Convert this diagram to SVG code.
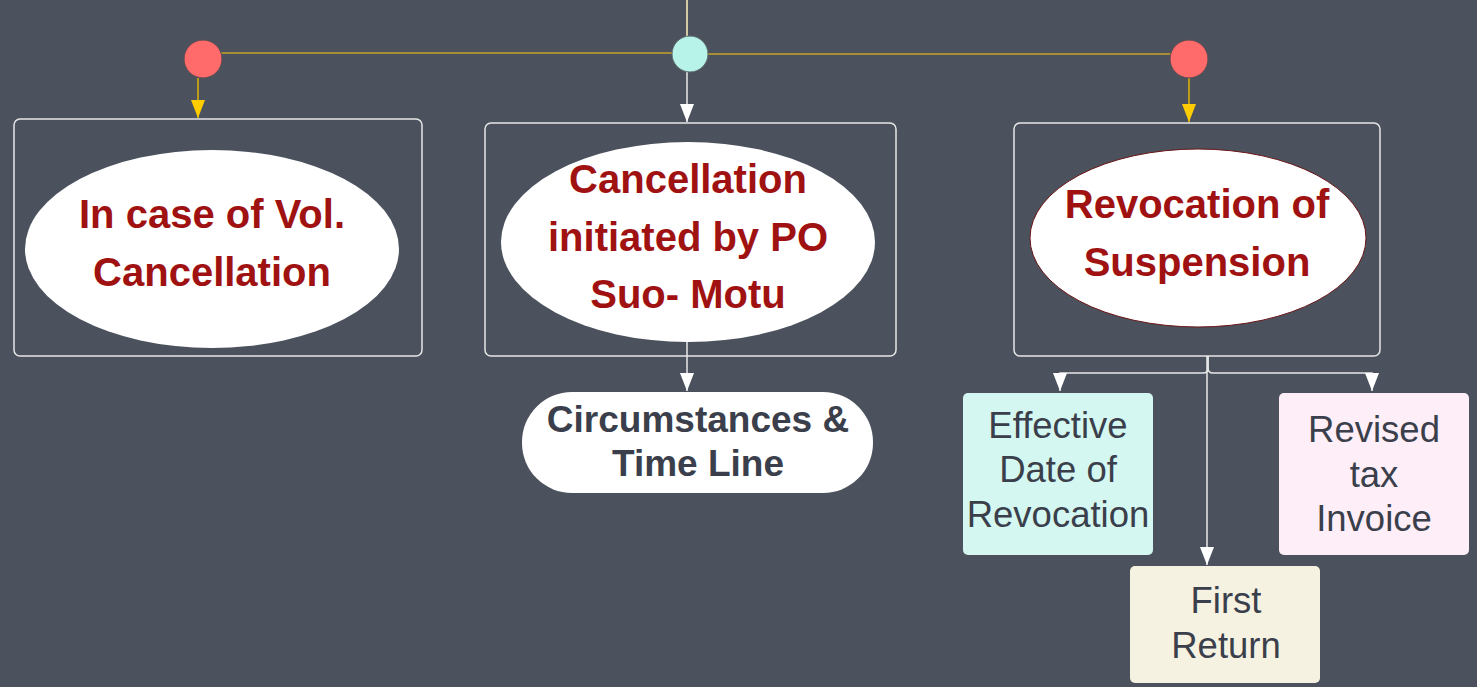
<svg xmlns="http://www.w3.org/2000/svg" width="1477" height="687" viewBox="0 0 1477 687">
<defs>
<style>
.bg{fill:#4c525d}
.frame{fill:none;stroke:#e6e6e6;stroke-width:1.5}
.ell{fill:#ffffff}
.red{font-family:"Liberation Sans",Arial,sans-serif;font-weight:bold;font-size:40px;fill:#a01212;text-anchor:middle}
.dark{font-family:"Liberation Sans",Arial,sans-serif;font-size:36.5px;fill:#3a3f4b;text-anchor:middle}
.darkb{font-family:"Liberation Sans",Arial,sans-serif;font-weight:bold;font-size:37px;fill:#3a3f4b;text-anchor:middle}
.wline{fill:none;stroke:#e8e8e8;stroke-width:1.5}
.yline{fill:none;stroke:#c9a227;stroke-width:1.5}
.yarrow{fill:none;stroke:#e0b400;stroke-width:1.5}
</style>
<marker id="aw" viewBox="0 0 18 14" refX="18" refY="7" markerWidth="18" markerHeight="14" markerUnits="userSpaceOnUse" orient="auto">
<path d="M0,0 L18,7 L0,14 z" fill="#ffffff"/>
</marker>
<marker id="ay" viewBox="0 0 18 14" refX="18" refY="7" markerWidth="18" markerHeight="14" markerUnits="userSpaceOnUse" orient="auto">
<path d="M0,0 L18,7 L0,14 z" fill="#ffcc00"/>
</marker>
</defs>
<rect class="bg" x="0" y="0" width="1477" height="687"/>

<g id="connectors">
<line x1="687" y1="0" x2="687" y2="37" stroke="#fff0b8" stroke-width="1.5"/>
<line class="yline" x1="221" y1="53" x2="673" y2="53"/>
<line class="yline" x1="707" y1="54" x2="1171" y2="54"/>
<line class="yarrow" x1="198" y1="78" x2="198" y2="118" marker-end="url(#ay)"/>
<line class="yarrow" x1="1189" y1="78" x2="1189" y2="122" marker-end="url(#ay)"/>
<line class="wline" x1="687" y1="72" x2="687" y2="122" marker-end="url(#aw)"/>
<line class="wline" x1="687" y1="342" x2="687" y2="391" marker-end="url(#aw)"/>
<path class="wline" d="M1208,356 V368 Q1208,373 1203,373 H1060 V391" marker-end="url(#aw)"/>
<path class="wline" d="M1208,356 V368 Q1208,373 1213,373 H1372 V391" marker-end="url(#aw)"/>
<line class="wline" x1="1207" y1="356" x2="1207" y2="565" marker-end="url(#aw)"/>
</g>

<g id="dot-left">
<circle cx="203" cy="59" r="19" fill="#ff6b6b" stroke="#5a4a4f" stroke-width="1"/>
</g>
<g id="dot-center">
<circle cx="690" cy="54" r="18" fill="#b8f3ea" stroke="#5a6a6a" stroke-width="1"/>
</g>
<g id="dot-right">
<circle cx="1189" cy="59" r="19" fill="#ff6b6b" stroke="#5a4a4f" stroke-width="1"/>
</g>

<g id="node-vol">
<rect class="frame" x="14" y="119" width="408" height="237" rx="6"/>
<ellipse class="ell" cx="212" cy="249" rx="187" ry="99"/>
<text class="red" x="212" y="228">In case of Vol.</text>
<text class="red" x="212" y="286">Cancellation</text>
</g>

<g id="node-suomotu">
<rect class="frame" x="485" y="123" width="411" height="233" rx="6"/>
<ellipse class="ell" cx="688" cy="242" rx="187" ry="100"/>
<text class="red" x="688" y="193">Cancellation</text>
<text class="red" x="688" y="251">initiated by PO</text>
<text class="red" x="688" y="308">Suo- Motu</text>
</g>

<g id="node-revocation">
<rect class="frame" x="1014" y="123" width="366" height="233" rx="6"/>
<ellipse class="ell" cx="1198" cy="238" rx="168" ry="89" stroke="#6a1515" stroke-width="1"/>
<text class="red" x="1197" y="218">Revocation of</text>
<text class="red" x="1197" y="276">Suspension</text>
</g>

<g id="node-circumstances">
<rect x="522" y="392" width="351" height="101" rx="50" fill="#ffffff"/>
<text class="darkb" x="698" y="432">Circumstances &amp;</text>
<text class="darkb" x="698" y="476">Time Line</text>
</g>

<g id="node-effective">
<rect x="963" y="393" width="190" height="162" rx="5" fill="#d4f7f1"/>
<text class="dark" x="1058" y="438">Effective</text>
<text class="dark" x="1058" y="482">Date of</text>
<text class="dark" x="1058" y="527">Revocation</text>
</g>

<g id="node-revised">
<rect x="1279" y="393" width="190" height="162" rx="5" fill="#fdeef8"/>
<text class="dark" x="1374" y="442">Revised</text>
<text class="dark" x="1374" y="487">tax</text>
<text class="dark" x="1374" y="531">Invoice</text>
</g>

<g id="node-first">
<rect x="1130" y="566" width="190" height="117" rx="5" fill="#f6f2e1"/>
<text class="dark" x="1226" y="613">First</text>
<text class="dark" x="1226" y="658">Return</text>
</g>
</svg>
